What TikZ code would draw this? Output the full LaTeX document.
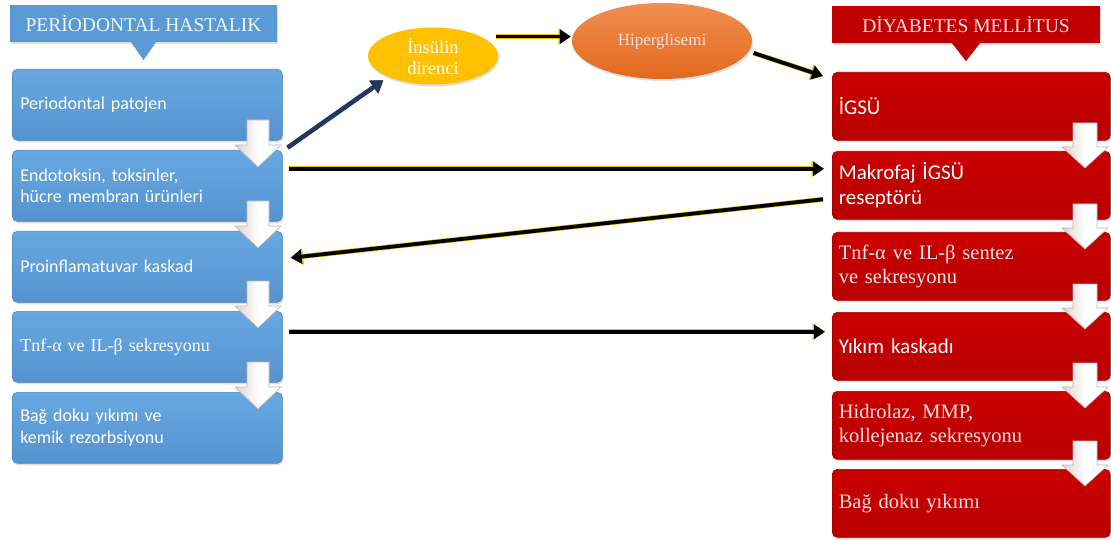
\documentclass[tikz,border=0pt]{standalone}
\usepackage{fontspec}
\setmainfont{Liberation Serif}
\setsansfont{Carlito}
\usetikzlibrary{arrows.meta,shapes.geometric,shadows,calc}
\definecolor{lblueT}{HTML}{68A8E1}
\definecolor{lblueB}{HTML}{5593D0}
\definecolor{lblueD}{HTML}{4A86C0}
\definecolor{hblue}{HTML}{5B9BD5}
\definecolor{rredT}{HTML}{CA0000}
\definecolor{rredB}{HTML}{B80000}
\definecolor{rredD}{HTML}{9C0000}
\definecolor{hred}{HTML}{C00000}
\definecolor{rpink}{HTML}{F8E2E2}
\definecolor{ygold}{HTML}{E8C200}
\definecolor{navy}{HTML}{1F3864}
\definecolor{insy}{HTML}{FFC000}
\definecolor{orT}{HTML}{F18E52}
\definecolor{orB}{HTML}{E2691C}
\definecolor{arrL}{HTML}{E4CFCF}
\definecolor{arrD}{HTML}{BDB8B8}
\newcommand{\bdarrowL}[2]{\draw[blockarr, shift={(#1,#2)}] (-11,0) -- (11,0) -- (11,25) -- (23,25) -- (0,47) -- (-23,25) -- (-11,25) -- cycle;}
\newcommand{\bdarrowR}[2]{\draw[blockarr, shift={(#1,#2)}] (-12,0) -- (12,0) -- (12,24) -- (23,24) -- (0,45) -- (-23,24) -- (-12,24) -- cycle;}
\tikzset{
  lbox/.style={rectangle, rounded corners=5pt, anchor=north west, top color=lblueT, bottom color=lblueB,
    draw=lblueD, line width=0.6pt, text=white, text width=254pt, inner xsep=8pt, inner ysep=0pt,
    minimum height=71pt, align=left, font=\sffamily\fontsize{18}{21.5}\selectfont,
    drop shadow={opacity=0.25, shadow xshift=1pt, shadow yshift=-2pt}},
  rbox/.style={rectangle, rounded corners=5pt, anchor=north west, top color=rredT, bottom color=rredB,
    draw=rredD, line width=0.6pt, text=white, text width=265pt, inner xsep=6.5pt, inner ysep=0pt,
    minimum height=68pt, align=left, font=\sffamily\fontsize{21}{25}\selectfont,
    drop shadow={opacity=0.25, shadow xshift=1pt, shadow yshift=-2pt}},
  serL/.style={font=\rmfamily\fontsize{18}{21}\selectfont},
  serR/.style={font=\rmfamily\fontsize{20.5}{24}\selectfont, text=rpink},
  hdr/.style={rectangle, minimum height=37pt, inner sep=0pt, font=\rmfamily\fontsize{19.5}{22}\selectfont,
    drop shadow={opacity=0.25, shadow xshift=1pt, shadow yshift=-2pt}},
  ell/.style={ellipse, inner sep=0pt, align=center, drop shadow={opacity=0.25, shadow xshift=1pt, shadow yshift=-2pt}},
  blockarr/.style={left color=arrL, right color=white, middle color=white, draw=arrD, line width=0.6pt, line join=miter},
  conn/.style={draw=black, line width=3.8pt, -{Triangle[length=11pt,width=14pt]},
    preaction={draw=ygold, line width=5pt, -{Triangle[length=12.5pt,width=16pt]}}},
  navarr/.style={draw=navy, line width=3.6pt, -{Triangle[length=11pt,width=14pt]},
    preaction={draw=black!80, line width=4.6pt, -{Triangle[length=12pt,width=15.5pt]}}}
}
\begin{document}
\begin{tikzpicture}[x=1pt,y=-1pt]
\useasboundingbox (0,0) rectangle (1111,540);
\fill[white] (0,0) rectangle (1111,540);

% headers
\node[hdr, fill=hblue, text=white!92!hblue, minimum width=267pt] (HL) at (143.5,23.5) {PERİODONTAL HASTALIK};
\fill[hblue] ([xshift=-12.5pt]HL.south) -- ([xshift=12.5pt]HL.south) -- ([yshift=-18pt]HL.south) -- cycle;
\node[hdr, fill=hred, text=rpink, minimum width=268pt] (HR) at (966,24.5) {DİYABETES MELLİTUS};
\fill[hred] ([xshift=-14pt]HR.south) -- ([xshift=14pt]HR.south) -- ([yshift=-18pt]HR.south) -- cycle;

% left column
\node[lbox] (L1) at (12,69) {Periodontal patojen};
\node[lbox] (L2) at (12,150) {Endotoksin, toksinler,\\hücre membran ürünleri};
\node[lbox] (L3) at (12,231) {Proinflamatuvar kaskad};
\node[lbox, serL] (L4) at (12,311) {Tnf-α ve IL-β sekresyonu};
\node[lbox] (L5) at (12,392) {Bağ doku yıkımı ve\\kemik rezorbsiyonu};

% right column
\node[rbox] (R1) at (832,72) {İGSÜ};
\node[rbox] (R2) at (832,151) {Makrofaj İGSÜ\\reseptörü};
\node[rbox, serR] (R3) at (832,232) {Tnf-α ve IL-β sentez\\ve sekresyonu};
\node[rbox] (R4) at (832,312) {Yıkım kaskadı};
\node[rbox, serR] (R5) at (832,391) {Hidrolaz, MMP,\\kollejenaz sekresyonu};
\node[rbox, serR] (R6) at (832,469) {Bağ doku yıkımı};

% block arrows
\bdarrowL{258}{120}
\bdarrowL{258}{201}
\bdarrowL{258}{281}
\bdarrowL{258}{362}
\bdarrowR{1085}{123}
\bdarrowR{1085}{204}
\bdarrowR{1085}{284}
\bdarrowR{1085}{363}
\bdarrowR{1085}{441}

% ellipses
\node[ell, fill=insy, text=white, minimum width=130pt, minimum height=57pt,
  font=\rmfamily\fontsize{18.5}{21}\selectfont] (I) at (433,56) {İnsülin\\direnci};
\node[ell, top color=orT, bottom color=orB, text=rpink, minimum width=180pt, minimum height=76pt,
  font=\rmfamily\fontsize{17}{20}\selectfont] (H) at (662,41) {Hiperglisemi};

% connectors
\draw[navarr, shorten >=6pt] ([xshift=5pt,yshift=-7pt]L1.south east) -- (I.205);
\draw[conn, shorten >=1pt] ([xshift=15pt]I.22) -- (I.22 -| H.west);
\draw[conn] ([xshift=6pt]H.-8) -- ([xshift=-9pt,yshift=-4pt]R1.north west);
\draw[conn, shorten >=8pt] ([xshift=6pt,yshift=17pt]L2.east) coordinate (c4) -- (c4 -| R2.west);
\draw[conn] ([xshift=-9pt,yshift=-14pt]R2.west) -- ([xshift=8pt,yshift=9pt]L3.east);
\draw[conn, shorten >=7pt] ([xshift=6pt,yshift=15pt]L4.east) coordinate (c6) -- (c6 -| R4.west);
\end{tikzpicture}
\end{document}
